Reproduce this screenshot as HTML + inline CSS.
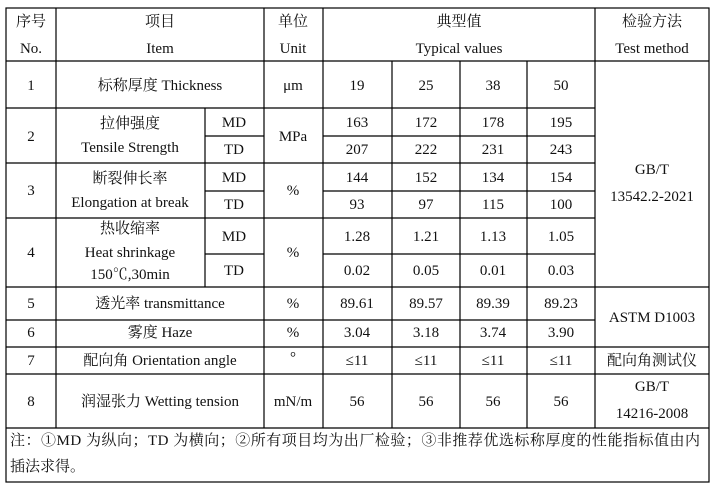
<!DOCTYPE html>
<html><head><meta charset="utf-8"><style>
html,body{margin:0;padding:0;background:#fff;}
svg text{font-family:"Liberation Serif","Noto Serif CJK SC",serif;font-size:15px;fill:#111;dominant-baseline:central;text-anchor:middle;}
</style></head><body>
<svg width="718" height="489" xmlns="http://www.w3.org/2000/svg">
<g stroke="#000" stroke-width="1.2" fill="none">
<rect x="6" y="8" width="703" height="474"/>
<line x1="6" y1="61" x2="709" y2="61"/>
<line x1="6" y1="108" x2="595" y2="108"/>
<line x1="6" y1="163" x2="595" y2="163"/>
<line x1="6" y1="218" x2="595" y2="218"/>
<line x1="6" y1="287" x2="709" y2="287"/>
<line x1="6" y1="320" x2="595" y2="320"/>
<line x1="6" y1="347" x2="709" y2="347"/>
<line x1="6" y1="374" x2="709" y2="374"/>
<line x1="6" y1="428" x2="709" y2="428"/>
<line x1="205" y1="136" x2="264" y2="136"/><line x1="323" y1="136" x2="595" y2="136"/>
<line x1="205" y1="191" x2="264" y2="191"/><line x1="323" y1="191" x2="595" y2="191"/>
<line x1="205" y1="254" x2="264" y2="254"/><line x1="323" y1="254" x2="595" y2="254"/>
<line x1="56" y1="8" x2="56" y2="428"/>
<line x1="205" y1="108" x2="205" y2="287"/>
<line x1="264" y1="8" x2="264" y2="428"/>
<line x1="323" y1="8" x2="323" y2="428"/>
<line x1="392" y1="61" x2="392" y2="428"/>
<line x1="460" y1="61" x2="460" y2="428"/>
<line x1="527" y1="61" x2="527" y2="428"/>
<line x1="595" y1="8" x2="595" y2="428"/>
</g>
<text x="31" y="22">序号</text><text x="31" y="49">No.</text>
<text x="160" y="22">项目</text><text x="160" y="49">Item</text>
<text x="293" y="22">单位</text><text x="293" y="49">Unit</text>
<text x="459" y="22">典型值</text><text x="459" y="49">Typical values</text>
<text x="652" y="22">检验方法</text><text x="652" y="49">Test method</text>

<text x="31" y="86">1</text><text x="160" y="86">标称厚度 Thickness</text><text x="293" y="86">μm</text>
<text x="357" y="86">19</text><text x="426" y="86">25</text><text x="493" y="86">38</text><text x="561" y="86">50</text>

<text x="31" y="137">2</text><text x="130" y="124">拉伸强度</text><text x="130" y="148">Tensile Strength</text>
<text x="234" y="123">MD</text><text x="234" y="150">TD</text><text x="293" y="137">MPa</text>
<text x="357" y="123">163</text><text x="426" y="123">172</text><text x="493" y="123">178</text><text x="561" y="123">195</text>
<text x="357" y="150">207</text><text x="426" y="150">222</text><text x="493" y="150">231</text><text x="561" y="150">243</text>

<text x="31" y="191">3</text><text x="130" y="179">断裂伸长率</text><text x="130" y="203">Elongation at break</text>
<text x="234" y="178">MD</text><text x="234" y="205">TD</text><text x="293" y="191">%</text>
<text x="357" y="178">144</text><text x="426" y="178">152</text><text x="493" y="178">134</text><text x="561" y="178">154</text>
<text x="357" y="205">93</text><text x="426" y="205">97</text><text x="493" y="205">115</text><text x="561" y="205">100</text>

<text x="31" y="253">4</text><text x="130" y="229">热收缩率</text><text x="130" y="253">Heat shrinkage</text><text x="130" y="275">150℃,30min</text>
<text x="234" y="237">MD</text><text x="234" y="271">TD</text><text x="293" y="253">%</text>
<text x="357" y="237">1.28</text><text x="426" y="237">1.21</text><text x="493" y="237">1.13</text><text x="561" y="237">1.05</text>
<text x="357" y="271">0.02</text><text x="426" y="271">0.05</text><text x="493" y="271">0.01</text><text x="561" y="271">0.03</text>
<text x="652" y="170">GB/T</text><text x="652" y="197">13542.2-2021</text>

<text x="31" y="304">5</text><text x="160" y="304">透光率  transmittance</text><text x="293" y="304">%</text>
<text x="357" y="304">89.61</text><text x="426" y="304">89.57</text><text x="493" y="304">89.39</text><text x="561" y="304">89.23</text>
<text x="31" y="333">6</text><text x="160" y="333">雾度  Haze</text><text x="293" y="333">%</text>
<text x="357" y="333">3.04</text><text x="426" y="333">3.18</text><text x="493" y="333">3.74</text><text x="561" y="333">3.90</text>
<text x="652" y="318">ASTM D1003</text>
<text x="31" y="361">7</text><text x="160" y="361">配向角 Orientation angle</text><text x="293" y="358">°</text>
<text x="357" y="361">≤11</text><text x="426" y="361">≤11</text><text x="493" y="361">≤11</text><text x="561" y="361">≤11</text>
<text x="652" y="361">配向角测试仪</text>
<text x="31" y="402">8</text><text x="160" y="402">润湿张力 Wetting tension</text><text x="293" y="402">mN/m</text>
<text x="357" y="402">56</text><text x="426" y="402">56</text><text x="493" y="402">56</text><text x="561" y="402">56</text>
<text x="652" y="387">GB/T</text><text x="652" y="414">14216-2008</text>

<text x="10" y="441" style="text-anchor:start" textLength="690" lengthAdjust="spacing">注：①MD 为纵向；TD 为横向；②所有项目均为出厂检验；③非推荐优选标称厚度的性能指标值由内</text>
<text x="10" y="467" style="text-anchor:start">插法求得。</text>
</svg>
</body></html>
